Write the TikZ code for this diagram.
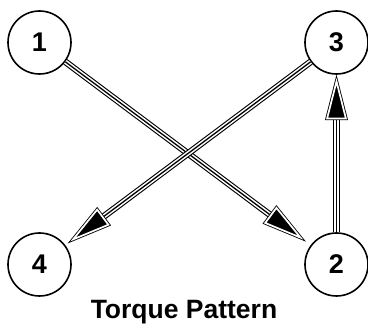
\documentclass[tikz,border=0pt]{standalone}
\usepackage{fontspec}
\setmainfont{Liberation Sans}
\usetikzlibrary{calc}

\begin{document}
\begin{tikzpicture}[x=1pt, y=-1pt,
  perno/.style={circle, draw, line width=1.6pt, minimum size=63pt, inner sep=0pt,
    font=\bfseries\fontsize{27}{27}\selectfont}]
  \useasboundingbox (0,0) rectangle (368,329);
  % pernos
  \node[perno] (b1) at (39.5,42.5) {1};
  \node[perno] (b3) at (336.5,42.5) {3};
  \node[perno] (b4) at (39.5,264.5) {4};
  \node[perno] (b2) at (336.5,264.5) {2};
  % flechas de orden: origen/destino/distancia de la punta
  \foreach \src/\dst/\gap in {b1/b2/40pt, b3/b4/37pt, b2/b3/34pt}{
    \coordinate (tip) at ($(\dst)!\gap!(\src)$);
    \coordinate (apex) at ($(tip)!5pt!(\src)$);
    \coordinate (back) at ($(apex)!37pt!(\src)$);
    \coordinate (c1) at ($(back)!9.4pt!90:(apex)$);
    \coordinate (c2) at ($(back)!9.4pt!-90:(apex)$);
    \draw[line width=6.6pt] (\src) -- (back);
    \draw[white, line width=4.4pt] (\src) -- (back);
    \draw[line width=1.3pt] (\src) -- (back);
    % cabeza
    \draw[line width=3.4pt, fill=black, line join=miter] (apex) -- (c1) -- (c2) -- cycle;
    \draw[white, line width=1.7pt, line join=miter] (apex) -- (c1) -- (c2) -- cycle;
  }
  \node[anchor=base, font=\bfseries\fontsize{26.5}{26.5}\selectfont] (title) at (184,319) {Torque Pattern};
\end{tikzpicture}
\end{document}
